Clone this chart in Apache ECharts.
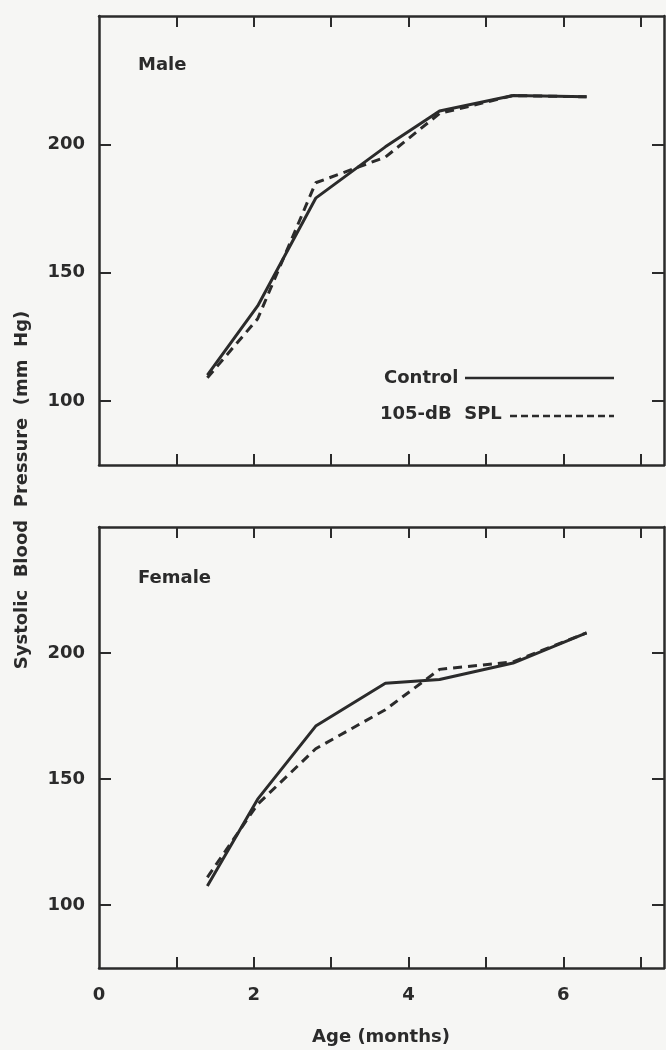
<!DOCTYPE html>
<html>
<head>
<meta charset="utf-8">
<script src="https://cdn.jsdelivr.net/npm/echarts@6/dist/echarts.min.js"></script>
<style>
  html, body { margin: 0; padding: 0; background: #f6f6f4; }
  #main { width: 666px; height: 1050px; }
</style>
</head>
<body>
<div id="main"></div>
<script>
// age in months at each measurement
var ages = [1.4, 2.05, 2.8, 3.7, 4.4, 5.35, 6.3];
// systolic blood pressure (mm Hg)
var maleControl = [110, 137, 179, 199, 213, 219, 218.5];
var maleNoise = [109, 132, 185, 195, 212, 219, 218.5];
var femaleControl = [107.5, 142, 171, 188, 189.5, 196, 208];
var femaleNoise = [111, 140, 162, 177.5, 193.5, 196.5, 208];
var xTicks = [1, 2, 3, 4, 5, 6, 7];
var xLabels = [0, 2, 4, 6];
var yTicks = [100, 150, 200];

var ink = '#2b2b2b';
var font = '"DejaVu Sans", sans-serif';

function pairs(xs, ys) {
  return xs.map(function (x, i) { return [x, ys[i]]; });
}

function xAxis(grid, pos, labels) {
  return {
    type: 'value', gridIndex: grid, position: pos, min: 0, max: 7.3,
    axisLine: { show: true, onZero: false, lineStyle: { color: ink, width: 2.5 } },
    axisTick: { show: true, inside: true, length: 11, customValues: xTicks,
      lineStyle: { color: ink, width: 2 } },
    axisLabel: { show: labels, customValues: xLabels, margin: 18, color: ink,
      fontFamily: font, fontWeight: 'bold', fontSize: 18 },
    splitLine: { show: false }
  };
}

function yAxis(grid, pos, labels) {
  return {
    type: 'value', gridIndex: grid, position: pos, min: 75, max: 250,
    axisLine: { show: true, onZero: false, lineStyle: { color: ink, width: 2.5 } },
    axisTick: { show: true, inside: true, length: 12, customValues: yTicks,
      lineStyle: { color: ink, width: 2 } },
    axisLabel: { show: labels, customValues: yTicks, margin: 14, color: ink,
      fontFamily: font, fontWeight: 'bold', fontSize: 18 },
    splitLine: { show: false }
  };
}

function line(xi, data, dashed) {
  return {
    type: 'line', xAxisIndex: xi, yAxisIndex: xi, data: data,
    symbol: 'none', silent: true,
    lineStyle: { color: ink, width: 3, type: dashed ? [9, 6] : 'solid' }
  };
}

function label(text, x, y, align) {
  return {
    type: 'text', x: x, y: y,
    style: { text: text, fill: ink, font: 'bold 18px ' + font,
      align: align || 'left', verticalAlign: 'middle' }
  };
}

var chart = echarts.init(document.getElementById('main'));
chart.setOption({
  backgroundColor: '#f6f6f4',
  animation: false,
  grid: [
    { left: 99, top: 16, right: 2, height: 449 },
    { left: 99, top: 527, right: 2, height: 441 }
  ],
  xAxis: [
    xAxis(0, 'bottom', false),
    xAxis(0, 'top', false),
    xAxis(1, 'bottom', true),
    xAxis(1, 'top', false)
  ],
  yAxis: [
    yAxis(0, 'left', true),
    yAxis(0, 'right', false),
    yAxis(1, 'left', true),
    yAxis(1, 'right', false)
  ],
  series: [
    line(0, pairs(ages, maleControl), false),
    line(0, pairs(ages, maleNoise), true),
    line(2, pairs(ages, femaleControl), false),
    line(2, pairs(ages, femaleNoise), true)
  ],
  graphic: [
    label('Male', 138, 65),
    label('Female', 138, 578),
    label('Control', 384, 378),
    { type: 'line', shape: { x1: 465, y1: 378, x2: 614, y2: 378 },
      style: { stroke: ink, lineWidth: 2.5 } },
    label('105-dB  SPL', 380, 414),
    { type: 'line', shape: { x1: 510, y1: 416, x2: 614, y2: 416 },
      style: { stroke: ink, lineWidth: 2.5, lineDash: [7, 4] } },
    label('Age (months)', 381, 1037, 'center'),
    { type: 'text', x: 22, y: 490, rotation: Math.PI / 2,
      style: { text: 'Systolic  Blood  Pressure  (mm  Hg)', fill: ink,
        font: 'bold 18px ' + font, align: 'center', verticalAlign: 'middle' } }
  ]
});
</script>
</body>
</html>
